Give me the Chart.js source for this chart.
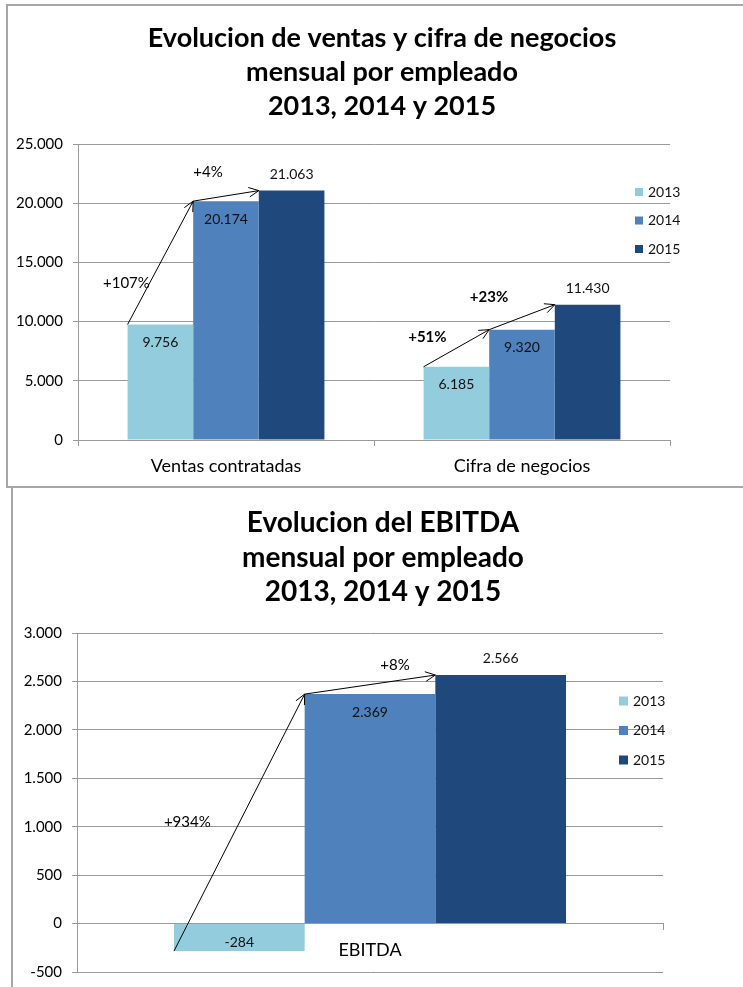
<!DOCTYPE html>
<html>
<head>
<meta charset="utf-8">
<script src="https://cdn.jsdelivr.net/npm/chart.js@4.4.0/dist/chart.umd.min.js"></script>
<style>
  html, body { margin: 0; padding: 0; background: #fff; overflow: hidden; }
  .marco { position: absolute; border: 2px solid #a6a6a6; box-sizing: border-box; }
  #marco1 { left: 6px; top: 4px; width: 800px; height: 484px; }
  #marco2 { left: 11px; top: 486px; width: 800px; height: 600px; }
  canvas { position: absolute; }
  #grafico1 { left: 6px; top: 0; }
  #grafico2 { left: 13px; top: 487px; }
</style>
</head>
<body>
<div class="marco" id="marco1"></div>
<div class="marco" id="marco2"></div>
<canvas id="grafico1" width="752" height="487"></canvas>
<canvas id="grafico2" width="740" height="504"></canvas>
<script>
// Datos
const anios = ['2013', '2014', '2015'];
const colores = ['#93CDDD', '#4F81BD', '#1F497D'];

const titulo1 = ['Evolucion de ventas y cifra de negocios', 'mensual por empleado', '2013, 2014 y 2015'];
const categoriasVentas = ['Ventas contratadas', 'Cifra de negocios'];
const ventas2013 = [9756, 6185];
const ventas2014 = [20174, 9320];
const ventas2015 = [21063, 11430];

const titulo2 = ['Evolucion del EBITDA', 'mensual por empleado', '2013, 2014 y 2015'];
const categoriasEbitda = ['EBITDA'];
const ebitda2013 = [-284];
const ebitda2014 = [2369];
const ebitda2015 = [2566];

// flechas: de [categoria, serie] a [categoria, serie]
const flechasVentas = [
    { de: [0, 0], a: [0, 1], texto: '+107%', dx: -34, dy: 20 },
    { de: [0, 1], a: [0, 2], texto: '+4%', dx: -18, dy: -24 },
    { de: [1, 0], a: [1, 1], texto: '+51%', dx: -29, dy: -11, negrita: true },
    { de: [1, 1], a: [1, 2], texto: '+23%', dx: -33, dy: -20, negrita: true }
];
const flechasEbitda = [
    { de: [0, 0], a: [0, 1], texto: '+934%', dx: -52, dy: 0 },
    { de: [0, 1], a: [0, 2], texto: '+8%', dx: 25, dy: -19 }
];

const gris = '#9a9a9a';
Chart.defaults.font.family = 'Lato';
Chart.defaults.color = '#000';

function formato(v) {
    const s = Math.abs(v).toString().replace(/\B(?=(\d{3})+(?!\d))/g, '.');
    return (v < 0 ? '-' : '') + s;
}

function series(d13, d14, d15) {
    return [d13, d14, d15].map((d, i) => ({
        label: anios[i],
        data: d,
        backgroundColor: colores[i],
        etiquetaFuera: i === 2
    }));
}

// eje vacio a la derecha: deja sitio para la leyenda sin descentrar el titulo
function ejeHueco(ancho) {
    return {
        position: 'right',
        grid: { display: false },
        border: { display: false },
        ticks: { display: false },
        afterFit: s => { s.width = ancho; }
    };
}

// Etiquetas de valor en cada barra
const etiquetasPlugin = {
    id: 'etiquetas',
    afterDatasetsDraw(chart) {
        const ctx = chart.ctx;
        ctx.save();
        ctx.font = '14px Lato';
        ctx.fillStyle = '#111';
        ctx.textAlign = 'center';
        ctx.textBaseline = 'middle';
        chart.data.datasets.forEach((ds, i) => {
            chart.getDatasetMeta(i).data.forEach((barra, j) => {
                const v = ds.data[j];
                const alto = Math.abs(barra.base - barra.y);
                const dir = v >= 0 ? 1 : -1;
                const y = ds.etiquetaFuera ? barra.y - dir * 16.5 : barra.y + dir * Math.min(18, alto / 3);
                ctx.fillText(formato(v), barra.x, y);
            });
        });
        ctx.restore();
    }
};

function crearFlechas(lista) {
    return {
        id: 'flechas',
        afterDatasetsDraw(chart) {
            const ctx = chart.ctx;
            const punto = ([cat, ds]) => {
                const b = chart.getDatasetMeta(ds).data[cat];
                return { x: b.x - b.width / 2, y: b.y };
            };
            ctx.save();
            ctx.strokeStyle = '#000';
            ctx.fillStyle = '#000';
            ctx.lineWidth = 1;
            ctx.textAlign = 'center';
            ctx.textBaseline = 'middle';
            lista.forEach(f => {
                const p0 = punto(f.de), p1 = punto(f.a);
                const ang = Math.atan2(p1.y - p0.y, p1.x - p0.x);
                const largo = 11, abre = Math.PI / 7;
                ctx.beginPath();
                ctx.moveTo(p0.x, p0.y);
                ctx.lineTo(p1.x, p1.y);
                ctx.moveTo(p1.x - largo * Math.cos(ang - abre), p1.y - largo * Math.sin(ang - abre));
                ctx.lineTo(p1.x, p1.y);
                ctx.lineTo(p1.x - largo * Math.cos(ang + abre), p1.y - largo * Math.sin(ang + abre));
                ctx.stroke();
                ctx.font = (f.negrita ? 'bold ' : '') + '15px Lato';
                ctx.fillText(f.texto, (p0.x + p1.x) / 2 + f.dx, (p0.y + p1.y) / 2 + f.dy);
            });
            ctx.restore();
        }
    };
}

// Leyenda a la derecha, encima del area del grafico como en Excel
function crearLeyenda(pos) {
    return {
        id: 'leyenda',
        afterDraw(chart) {
            const ctx = chart.ctx;
            ctx.save();
            ctx.font = '14px Lato';
            ctx.textAlign = 'left';
            ctx.textBaseline = 'middle';
            chart.data.datasets.forEach((ds, i) => {
                const y = pos.y + i * pos.paso;
                ctx.fillStyle = ds.backgroundColor;
                ctx.fillRect(pos.x, y - pos.caja / 2, pos.caja, pos.caja);
                ctx.fillStyle = '#111';
                ctx.fillText(ds.label, pos.x + pos.caja + 5, y);
            });
            ctx.restore();
        }
    };
}

new Chart(document.getElementById('grafico1'), {
    type: 'bar',
    data: { labels: categoriasVentas, datasets: series(ventas2013, ventas2014, ventas2015) },
    options: {
        responsive: false,
        animation: false,
        datasets: { bar: { categoryPercentage: 0.665, barPercentage: 1 } },
        layout: { padding: 0 },
        plugins: {
            legend: { display: false },
            tooltip: { enabled: false },
            title: {
                display: true, text: titulo1, color: '#000',
                font: { size: 27, weight: 'bold', lineHeight: '34px' },
                padding: { top: 21, bottom: 21 }
            }
        },
        scales: {
            x: {
                grid: { drawOnChartArea: false, tickLength: 6, color: gris },
                border: { color: gris },
                ticks: { font: { size: 18 }, color: '#000', padding: 9 },
                afterFit: s => { s.height = 47; }
            },
            y: {
                min: 0, max: 25000,
                ticks: { stepSize: 5000, callback: v => formato(v), font: { size: 15 }, color: '#000', padding: 10 },
                grid: { color: gris, tickLength: 5 },
                border: { color: gris },
                afterFit: s => { s.width = 72; }
            },
            hueco: ejeHueco(88)
        }
    },
    plugins: [etiquetasPlugin, crearFlechas(flechasVentas), crearLeyenda({ x: 629, y: 192, paso: 28.5, caja: 8 })]
});

new Chart(document.getElementById('grafico2'), {
    type: 'bar',
    data: { labels: categoriasEbitda, datasets: series(ebitda2013, ebitda2014, ebitda2015) },
    options: {
        responsive: false,
        animation: false,
        datasets: { bar: { categoryPercentage: 0.669, barPercentage: 1 } },
        layout: { padding: 0 },
        plugins: {
            legend: { display: false },
            tooltip: { enabled: false },
            title: {
                display: true, text: titulo2, color: '#000',
                font: { size: 28, weight: 'bold', lineHeight: '34.5px' },
                padding: { top: 19, bottom: 23.5 }
            }
        },
        scales: {
            x: {
                position: { y: 0 },
                grid: { drawOnChartArea: false, tickLength: 6, color: gris },
                border: { color: gris },
                ticks: { font: { size: 18 }, color: '#000', padding: 10 },
                afterFit: s => { s.height = 0; }
            },
            y: {
                min: -500, max: 3000,
                ticks: { stepSize: 500, callback: v => formato(v), font: { size: 15 }, color: '#000', padding: 10 },
                grid: { color: gris, tickLength: 5 },
                border: { color: gris },
                afterFit: s => { s.width = 64; }
            },
            hueco: ejeHueco(90)
        }
    },
    plugins: [etiquetasPlugin, crearFlechas(flechasEbitda), crearLeyenda({ x: 606, y: 214, paso: 29.5, caja: 9 })]
});
</script>
</body>
</html>
